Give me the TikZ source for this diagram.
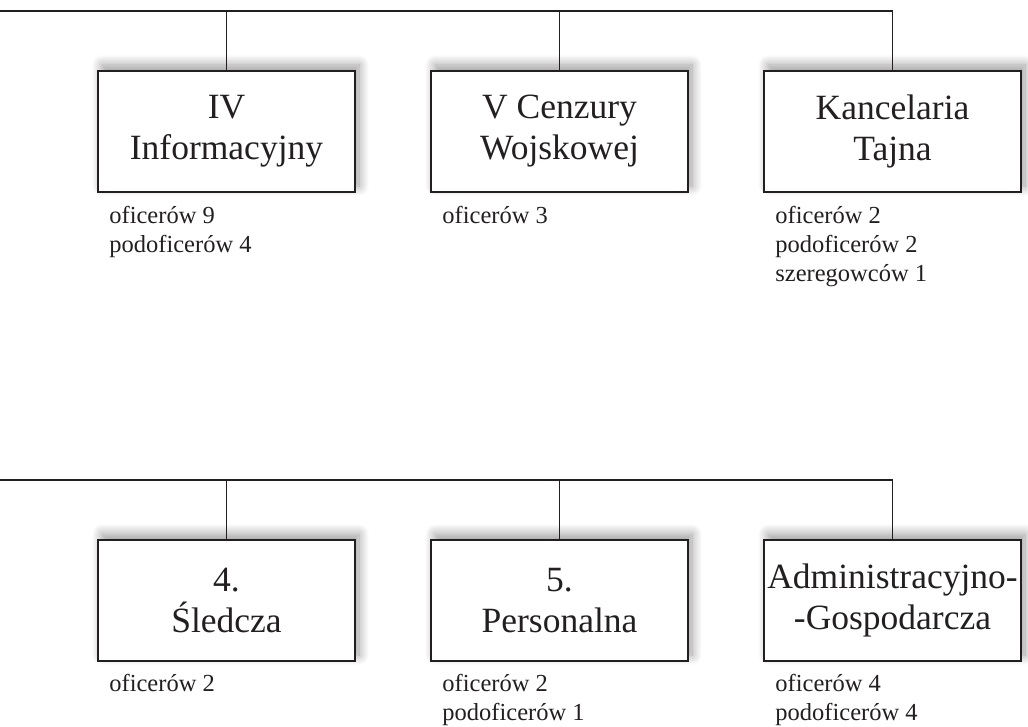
\documentclass[tikz,border=0pt]{standalone}
\usepackage{fontspec}
\setmainfont{Liberation Serif}
\usetikzlibrary{shadows.blur}
\definecolor{ink}{HTML}{231F20}
\begin{document}
\begin{tikzpicture}[x=1pt,y=-1pt,
  unitbox/.style={draw=ink, line width=1.6pt, fill=white, minimum width=257pt, minimum height=121pt,
    inner sep=0pt, align=center, text=ink,
    font=\fontsize{35.5}{41}\selectfont,
    blur shadow={shadow xshift=4pt, shadow yshift=6pt, shadow blur radius=10pt, shadow blur steps=14, shadow opacity=40}},
  staff/.style={anchor=base west, inner sep=0pt, align=left, text=ink, font=\fontsize{24.5}{29}\selectfont},
  conn/.style={draw=ink, line width=1.4pt}]
\useasboundingbox (0,0) rectangle (1028,727);
% top row
\coordinate (t0) at (0,11);
\node[unitbox] (b1) at (226.5,131.5) {IV\\Informacyjny};
\node[unitbox] (b2) at (559.5,131.5) {V Cenzury\\Wojskowej};
\node[unitbox] (b3) at (892.5,131.5) {Kancelaria\\Tajna};
\draw[conn] (t0) -| (b3.north);
\draw[conn] (b1.north) -- (b1.north |- t0);
\draw[conn] (b2.north) -- (b2.north |- t0);
% base anchor = baseline of the last line
\node[staff] (s1) at ([shift={(12,60)}]b1.south west) {oficerów 9\\podoficerów 4};
\node[staff] (s2) at ([shift={(12,31)}]b2.south west) {oficerów 3};
\node[staff] (s3) at ([shift={(12,89)}]b3.south west) {oficerów 2\\podoficerów 2\\szeregowców 1};
% bottom row
\coordinate (u0) at (0,480);
\node[unitbox] (c1) at (226.5,600.5) {4.\\Śledcza};
\node[unitbox] (c2) at (559.5,600.5) {5.\\Personalna};
\node[unitbox] (c3) at (892.5,600.5) {Administracyjno-\\-Gospodarcza};
\draw[conn] (u0) -| (c3.north);
\draw[conn] (c1.north) -- (c1.north |- u0);
\draw[conn] (c2.north) -- (c2.north |- u0);
\node[staff] (r1) at ([shift={(12,30)}]c1.south west) {oficerów 2};
\node[staff] (r2) at ([shift={(12,59)}]c2.south west) {oficerów 2\\podoficerów 1};
\node[staff] (r3) at ([shift={(12,59)}]c3.south west) {oficerów 4\\podoficerów 4};
\end{tikzpicture}
\end{document}
